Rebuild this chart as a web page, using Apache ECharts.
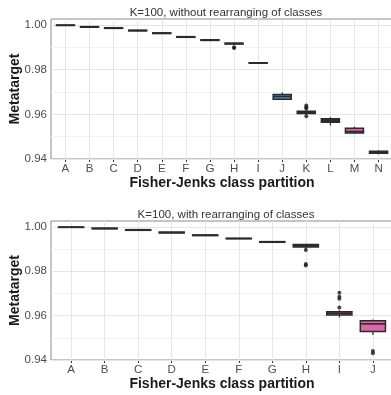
<!DOCTYPE html>
<html><head><meta charset="utf-8">
<script src="https://cdn.jsdelivr.net/npm/echarts@6/dist/echarts.min.js"></script>
<style>html,body{margin:0;padding:0;background:#fff}#c{width:391px;height:395px}</style>
</head><body><div id="c"></div>
<script>
// ---- data ----
const catsTop = ['A','B','C','D','E','F','G','H','I','J','K','L','M','N'];
// [low whisker, q1, median, q3, high whisker]
const boxesTop = [
  [0.9997, 0.9998, 0.9999, 1.0000, 1.0000],
  [0.9989, 0.9990, 0.9991, 0.9993, 0.9994],
  [0.9983, 0.9985, 0.9986, 0.9988, 0.9989],
  [0.9972, 0.9974, 0.9975, 0.9977, 0.9979],
  [0.9961, 0.9962, 0.9963, 0.9965, 0.9966],
  [0.9943, 0.9945, 0.9946, 0.9948, 0.9949],
  [0.9929, 0.9931, 0.9932, 0.9934, 0.9936],
  [0.9911, 0.9915, 0.9917, 0.9919, 0.9921],
  [0.9827, 0.9829, 0.9830, 0.9831, 0.9832],
  [0.9666, 0.9668, 0.9680, 0.9689, 0.9698],
  [0.9597, 0.9604, 0.9609, 0.9614, 0.9620],
  [0.9550, 0.9565, 0.9572, 0.9580, 0.9587],
  [0.9513, 0.9517, 0.9523, 0.9538, 0.9545],
  [0.9421, 0.9426, 0.9430, 0.9435, 0.9439]
];
// [category index, value]
const outliersTop = [[7,0.9900],[7,0.9897],[10,0.9640],[10,0.9632],[10,0.9626],[10,0.9591]];

const catsBot = ['A','B','C','D','E','F','G','H','I','J'];
const boxesBot = [
  [0.9997, 0.9998, 0.9999, 1.0000, 1.0000],
  [0.9991, 0.9992, 0.9993, 0.9995, 0.9996],
  [0.9984, 0.9985, 0.9986, 0.9988, 0.9989],
  [0.9972, 0.9973, 0.9975, 0.9977, 0.9978],
  [0.9960, 0.9961, 0.9963, 0.9964, 0.9966],
  [0.9946, 0.9947, 0.9948, 0.9949, 0.9950],
  [0.9930, 0.9931, 0.9933, 0.9934, 0.9935],
  [0.9900, 0.9910, 0.9916, 0.9921, 0.9923],
  [0.9592, 0.9603, 0.9611, 0.9618, 0.9624],
  [0.9513, 0.9528, 0.9563, 0.9577, 0.9583]
];
const outliersBot = [[7,0.9896],[7,0.9833],[7,0.9826],[8,0.9703],[8,0.9685],[8,0.9676],[8,0.9637],[9,0.9441],[9,0.9430]];

const yTicks = [0.94, 0.96, 0.98, 1.00];
const yMinor = [0.95, 0.97, 0.99];
const titleTop = 'K=100, without rearranging of classes';
const titleBot = 'K=100, with rearranging of classes';
const xTitle = 'Fisher-Jenks class partition';
const yTitle = 'Metatarget';

// ---- styling ----
const fillsTop = ['#333','#333','#333','#333','#333','#333','#333','#333','#333','#4f93d2','#333','#333','#e064a8','#333'];
const fillsBot = ['#333','#333','#333','#5f7f3a','#333','#333','#333','#333','#c85aa0','#e066aa'];
const FONT = '"Liberation Sans", Arial, Helvetica, sans-serif';
const STROKE = '#2b2b2b';

function makeRender(fills){
  return function(params, api){
    const x = api.value(0);
    const lo = api.coord([x, api.value(1)]);
    const q1 = api.coord([x, api.value(2)]);
    const md = api.coord([x, api.value(3)]);
    const q3 = api.coord([x, api.value(4)]);
    const hi = api.coord([x, api.value(5)]);
    const w = api.size([0.75, 0])[0];
    const cx = md[0];
    const st = {stroke: STROKE, lineWidth: 1.2};
    return {type:'group', children:[
      {type:'line', shape:{x1:cx,y1:q3[1],x2:cx,y2:hi[1]}, style:st},
      {type:'line', shape:{x1:cx,y1:q1[1],x2:cx,y2:lo[1]}, style:st},
      {type:'rect', shape:{x:cx-w/2, y:q3[1], width:w, height:Math.max(q1[1]-q3[1],0.1)},
        style:{fill: fills[params.dataIndex], stroke: STROKE, lineWidth: 1.5}},
      {type:'line', shape:{x1:cx-w/2,y1:md[1],x2:cx+w/2,y2:md[1]}, style:{stroke:STROKE, lineWidth:1.6}}
    ]};
  };
}

function gridLines(n){
  const d = [];
  yMinor.forEach(v => d.push({yAxis:v, lineStyle:{color:'#f3f3f3', width:1, type:'solid'}}));
  yTicks.forEach(v => d.push({yAxis:v, lineStyle:{color:'#e6e6e6', width:1, type:'solid'}}));
  for (let i=0;i<n;i++) d.push({xAxis:i, lineStyle:{color:'#e6e6e6', width:1, type:'solid'}});
  return d;
}

function axesFor(idx, cats){
  const xs = cats.map((_,i)=>i);
  return {
    x: {type:'value', gridIndex:idx, min:-0.6, max:cats.length-1+0.6,
        axisLine:{show:false}, splitLine:{show:false},
        axisTick:{show:true, customValues:xs, length:3, lineStyle:{color:'#333', width:1}},
        axisLabel:{customValues:xs, formatter:v=>cats[Math.round(v)] || '', color:'#4d4d4d', fontSize:11.5, fontFamily:FONT, margin:4},
        name:xTitle, nameLocation:'middle', nameGap:17, nameMoveOverlap:false,
        nameTextStyle:{fontWeight:'bold', fontSize:14, color:'#1a1a1a', fontFamily:FONT}},
    y: {type:'value', gridIndex:idx, min:0.94, max:1.0027,
        axisLine:{show:false}, splitLine:{show:false},
        axisTick:{show:true, customValues:yTicks, length:3, lineStyle:{color:'#333', width:1}},
        axisLabel:{customValues:yTicks, formatter:v=>v.toFixed(2), color:'#4d4d4d', fontSize:11.5, fontFamily:FONT, margin:4},
        name:yTitle, nameLocation:'middle', nameGap:29, nameRotate:90, nameMoveOverlap:false,
        nameTextStyle:{fontWeight:'bold', fontSize:14, color:'#1a1a1a', fontFamily:FONT}}
  };
}

const a0 = axesFor(0, catsTop), a1 = axesFor(1, catsBot);

const chart = echarts.init(document.getElementById('c'), null, {renderer:'canvas'});
chart.setOption({
  animation:false,
  backgroundColor:'#fff',
  title:[
    {text:titleTop, left:221, top:2, textAlign:'center', textStyle:{fontSize:11.5, fontWeight:'normal', color:'#333', fontFamily:FONT}},
    {text:titleBot, left:221, top:204, textAlign:'center', textStyle:{fontSize:11.5, fontWeight:'normal', color:'#333', fontFamily:FONT}}
  ],
  grid:[
    {left:51, right:-2, top:19, height:140, show:true, borderColor:'#8a8a8a', borderWidth:1, backgroundColor:'#fff', outerBoundsMode:'none', containLabel:false},
    {left:51, right:-2, top:221, height:139, show:true, borderColor:'#8a8a8a', borderWidth:1, backgroundColor:'#fff', outerBoundsMode:'none', containLabel:false}
  ],
  xAxis:[a0.x, a1.x],
  yAxis:[a0.y, a1.y],
  series:[
    {type:'line', xAxisIndex:0, yAxisIndex:0, data:[[0,0.5]], symbol:'none', lineStyle:{opacity:0}, silent:true, z:1,
     markLine:{z:1, silent:true, symbol:['none','none'], label:{show:false}, animation:false, data:gridLines(catsTop.length)}},
    {type:'line', xAxisIndex:1, yAxisIndex:1, data:[[0,0.5]], symbol:'none', lineStyle:{opacity:0}, silent:true, z:1,
     markLine:{z:1, silent:true, symbol:['none','none'], label:{show:false}, animation:false, data:gridLines(catsBot.length)}},
    {type:'custom', xAxisIndex:0, yAxisIndex:0, z:6, renderItem:makeRender(fillsTop),
     data: boxesTop.map((b,i)=>[i].concat(b)), encode:{x:0, y:[1,2,3,4,5]}},
    {type:'custom', xAxisIndex:1, yAxisIndex:1, z:6, renderItem:makeRender(fillsBot),
     data: boxesBot.map((b,i)=>[i].concat(b)), encode:{x:0, y:[1,2,3,4,5]}},
    {type:'scatter', xAxisIndex:0, yAxisIndex:0, z:7, data:outliersTop, symbolSize:4, itemStyle:{color:'#1a1a1a'}},
    {type:'scatter', xAxisIndex:1, yAxisIndex:1, z:7, data:outliersBot, symbolSize:4, itemStyle:{color:'#1a1a1a'}}
  ]
});
</script>
</body></html>
